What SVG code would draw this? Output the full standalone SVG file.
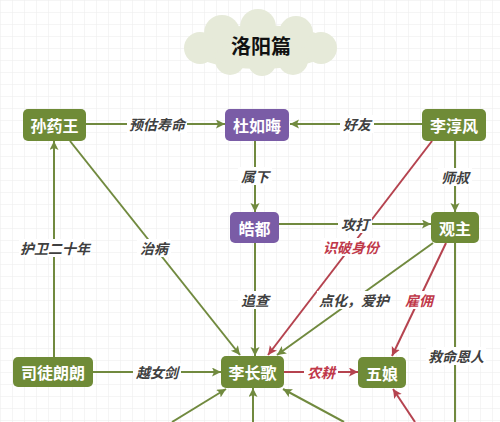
<svg xmlns="http://www.w3.org/2000/svg" width="500" height="422" viewBox="0 0 500 422">
<defs>
<pattern id="grid" width="12" height="12" patternUnits="userSpaceOnUse">
<path d="M12,0 L0,0 0,12" fill="none" stroke="#ebebeb" stroke-width="1"/>
</pattern>
<marker id="ag" markerUnits="userSpaceOnUse" markerWidth="10" markerHeight="10" refX="9" refY="4.5" orient="auto">
<path d="M0,0 L9,4.5 L0,9 L2,4.5 z" fill="#718a3f"/>
</marker>
<marker id="ar" markerUnits="userSpaceOnUse" markerWidth="10" markerHeight="10" refX="9" refY="4.5" orient="auto">
<path d="M0,0 L9,4.5 L0,9 L2,4.5 z" fill="#b5434f"/>
</marker>
</defs>
<style>
.g{fill:#6f8b37}
.p{fill:#7a5ca6}
.nt{font-family:"Noto Sans CJK SC","Liberation Sans",sans-serif;font-size:16px;font-weight:bold;fill:#fff;text-anchor:middle;dominant-baseline:central}
.eg{stroke:#718a3f;stroke-width:2;fill:none;marker-end:url(#ag)}
.en{stroke:#718a3f;stroke-width:2;fill:none}
.er{stroke:#b5434f;stroke-width:2;fill:none;marker-end:url(#ar)}
.lb{fill:#fff}
.lt{font-family:"Noto Sans CJK SC","Liberation Sans",sans-serif;font-size:14px;font-weight:bold;font-style:italic;fill:#404040;text-anchor:middle;dominant-baseline:central}
.lr{fill:#c0394a}
</style>
<rect width="500" height="422" fill="#fff"/>
<rect width="500" height="422" fill="url(#grid)"/>

<g id="title">
<g fill="#e6ead9">
<ellipse cx="260" cy="47" rx="72" ry="22"/>
<circle cx="222" cy="33" r="18"/>
<circle cx="258" cy="27" r="18"/>
<circle cx="296" cy="33" r="17"/>
<circle cx="200" cy="48" r="16"/>
<circle cx="321" cy="48" r="16"/>
<circle cx="230" cy="60" r="15"/>
<circle cx="262" cy="62" r="14"/>
<circle cx="293" cy="60" r="15"/>
</g>
<text x="261" y="45" font-family="Noto Sans CJK SC,Liberation Sans,sans-serif" font-size="20" font-weight="bold" fill="#111" text-anchor="middle" dominant-baseline="central">洛阳篇</text>
</g>

<g id="connectors">
<path class="eg" d="M86,124 L225,124"/>
<path class="eg" d="M422,124 L290,124"/>
<path class="eg" d="M255,140 L255,212"/>
<path class="eg" d="M455,140 L455,212"/>
<path class="eg" d="M279,224 L431,224"/>
<path class="eg" d="M433,243 L277,355"/>
<path class="er" d="M432,141 L268,355"/>
<path class="er" d="M446,243 L392,356"/>
<path class="en" d="M455,243 L455,422"/>
<path class="eg" d="M70,141 L240,355"/>
<path class="eg" d="M54,357 L54,141"/>
<path class="eg" d="M93,372 L221,372"/>
<path class="eg" d="M255,243 L255,356"/>
<path class="er" d="M284,372 L358,372"/>
<path class="eg" d="M172,422 L226,389"/>
<path class="eg" d="M253,422 L253,388"/>
<path class="eg" d="M344,422 L283,389"/>
<path class="er" d="M415,422 L393,389"/>

<rect class="lb" x="127" y="115" width="60" height="18"/><text class="lt" x="157" y="124">预估寿命</text>
<rect class="lb" x="340" y="115" width="34" height="18"/><text class="lt" x="357" y="124">好友</text>
<rect class="lb" x="238" y="167" width="34" height="18"/><text class="lt" x="255" y="176">属下</text>
<rect class="lb" x="438" y="168" width="34" height="18"/><text class="lt" x="455" y="177">师叔</text>
<rect class="lb" x="338" y="215" width="34" height="18"/><text class="lt" x="355" y="224">攻打</text>
<rect class="lb" x="321" y="238" width="60" height="18"/><text class="lt lr" x="351" y="247">识破身份</text>
<rect class="lb" x="317" y="291" width="74" height="18"/><text class="lt" x="354" y="300">点化，爱护</text>
<rect class="lb" x="402" y="291" width="34" height="18"/><text class="lt lr" x="419" y="300">雇佣</text>
<rect class="lb" x="426" y="347" width="60" height="18"/><text class="lt" x="456" y="356">救命恩人</text>
<rect class="lb" x="137" y="239" width="34" height="18"/><text class="lt" x="154" y="248">治病</text>
<rect class="lb" x="19" y="239" width="72" height="18"/><text class="lt" x="55" y="248">护卫二十年</text>
<rect class="lb" x="133" y="363" width="48" height="18"/><text class="lt" x="157" y="372">越女剑</text>
<rect class="lb" x="238" y="291" width="34" height="18"/><text class="lt" x="255" y="300">追查</text>
<rect class="lb" x="304" y="363" width="34" height="18"/><text class="lt lr" x="321" y="372">农耕</text>
</g>

<g id="n-sunyaowang"><rect class="g" x="23" y="109" width="63" height="32" rx="5"/><text class="nt" x="54.5" y="125">孙药王</text></g>
<g id="n-duruhui"><rect class="p" x="225" y="109" width="64" height="32" rx="5"/><text class="nt" x="257" y="125">杜如晦</text></g>
<g id="n-lichunfeng"><rect class="g" x="422" y="109" width="64" height="32" rx="5"/><text class="nt" x="454" y="125">李淳风</text></g>
<g id="n-haodu"><rect class="p" x="230" y="212" width="49" height="31" rx="5"/><text class="nt" x="254.5" y="227.5">皓都</text></g>
<g id="n-guanzhu"><rect class="g" x="431" y="212" width="48" height="31" rx="5"/><text class="nt" x="455" y="227.5">观主</text></g>
<g id="n-situlanglang"><rect class="g" x="13" y="357" width="80" height="30" rx="5"/><text class="nt" x="53" y="372">司徒朗朗</text></g>
<g id="n-lichangge"><rect class="g" x="221" y="356" width="63" height="32" rx="5"/><text class="nt" x="252.5" y="372">李长歌</text></g>
<g id="n-wuniang"><rect class="g" x="358" y="357" width="48" height="31" rx="5"/><text class="nt" x="382" y="372.5">五娘</text></g>
</svg>
